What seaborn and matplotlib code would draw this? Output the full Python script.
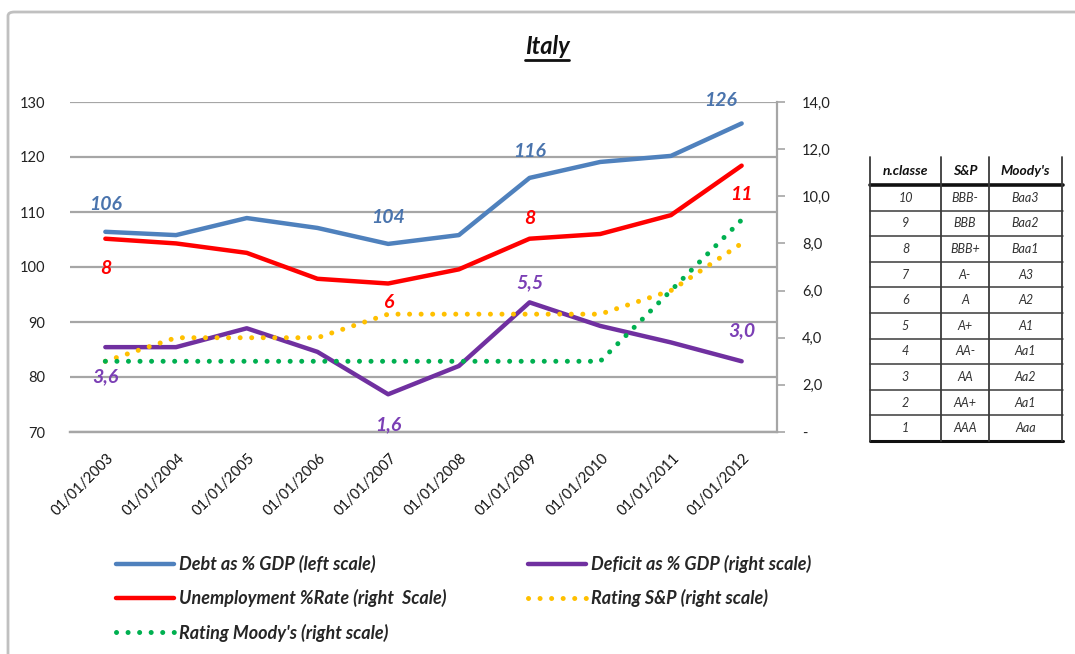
import numpy as np
import pandas as pd
import matplotlib
matplotlib.use('Agg')
import matplotlib.pyplot as plt
import matplotlib.transforms as mtransforms
import seaborn as sns
from matplotlib.lines import Line2D
from matplotlib.patches import FancyBboxPatch
from matplotlib.ticker import FixedLocator, FuncFormatter


dates = ['01/01/2003', '01/01/2004', '01/01/2005', '01/01/2006', '01/01/2007',
         '01/01/2008', '01/01/2009', '01/01/2010', '01/01/2011', '01/01/2012']
debt = [106.4, 105.8, 108.9, 107.1, 104.2, 105.8, 116.2, 119.1, 120.2, 126.1]
unemployment = [8.2, 8.0, 7.6, 6.5, 6.3, 6.9, 8.2, 8.4, 9.2, 11.3]
deficit = [3.6, 3.6, 4.4, 3.4, 1.6, 2.8, 5.5, 4.5, 3.8, 3.0]
rating_sp = [3, 4, 4, 4, 5, 5, 5, 5, 6, 8]
rating_moodys = [3, 3, 3, 3, 3, 3, 3, 3, 6, 9]

labelled = [0, 4, 6, 9]

classes = [10, 9, 8, 7, 6, 5, 4, 3, 2, 1]
sp_scale = ['BBB-', 'BBB', 'BBB+', 'A-', 'A', 'A+', 'AA-', 'AA', 'AA+', 'AAA']
moodys_scale = ['Baa3', 'Baa2', 'Baa1', 'A3', 'A2', 'A1', 'Aa1', 'Aa2', 'Aa1', 'Aaa']

BLUE = '#4F81BD'
RED = '#FF0000'
PURPLE = '#7030A0'
YELLOW = '#FFC000'
GREEN = '#00B050'
GRID = '#a6a6a6'

sns.set_style('white')
plt.rcParams['font.family'] = ['Lato', 'DejaVu Sans']

df = pd.DataFrame({'x': np.arange(len(dates)), 'debt': debt, 'unemployment': unemployment,
                   'deficit': deficit, 'sp': rating_sp, 'moodys': rating_moodys})

W, H = 1075, 654
fig = plt.figure(figsize=(W / 100, H / 100), dpi=100)


def px(x0, y0, x1, y1):
    # pixel box (top-left origin) -> figure fraction rect
    return [x0 / W, 1 - y1 / H, (x1 - x0) / W, (y1 - y0) / H]


# outer chart frame
frame = FancyBboxPatch((8 / W, -0.1), 1.2, 1 - 12 / H + 0.1, transform=fig.transFigure,
                       boxstyle='round,pad=0,rounding_size=0.006', facecolor='none',
                       edgecolor='#c0c0c0', lw=2, zorder=0)
fig.patches.append(frame)

ax = fig.add_axes(px(70, 102, 777, 432))
ax2 = ax.twinx()

solid = dict(lw=3.2, solid_capstyle='round', solid_joinstyle='round')
dotted = dict(lw=3.6, linestyle=(0, (0.01, 2.3)), dash_capstyle='round')

sns.lineplot(data=df, x='x', y='debt', ax=ax, color=BLUE, **solid)
sns.lineplot(data=df, x='x', y='unemployment', ax=ax2, color=RED, **solid)
sns.lineplot(data=df, x='x', y='deficit', ax=ax2, color=PURPLE, **solid)
sns.lineplot(data=df, x='x', y='sp', ax=ax2, color=YELLOW, **dotted)
sns.lineplot(data=df, x='x', y='moodys', ax=ax2, color=GREEN, **dotted)

ax.set_xlim(-0.5, len(dates) - 0.5)
ax.set_ylim(70, 130)
ax2.set_ylim(0, 14)
ax.set_xlabel('')
ax.set_ylabel('')
ax2.set_ylabel('')

ax.yaxis.set_major_locator(FixedLocator(np.arange(70, 131, 10)))
ax.grid(axis='y', color=GRID, lw=1.6)
ax.grid(axis='x', visible=False)
ax.tick_params(axis='y', length=0, pad=18, labelsize=10.5, labelcolor='#222222')
ax.set_xticks(df['x'])
ax.set_xticklabels(dates, rotation=45, ha='right', va='center', rotation_mode='anchor',
                   fontsize=10.5, color='#111111')
ax.tick_params(axis='x', length=0, pad=17)
shift = mtransforms.ScaledTranslation(6 / 100, 0, fig.dpi_scale_trans)
for t in ax.get_xticklabels():
    t.set_transform(t.get_transform() + shift)

ax2.yaxis.set_major_locator(FixedLocator(np.arange(0, 15, 2)))
ax2.yaxis.set_major_formatter(FuncFormatter(
    lambda v, p: '-' if v == 0 else f'{v:.1f}'.replace('.', ',')))
ax2.tick_params(axis='y', length=6, width=1.2, color=GRID, direction='out', pad=12,
                labelsize=10.5, labelcolor='#222222')

for a in (ax, ax2):
    for s in ('top', 'left', 'right'):
        a.spines[s].set_visible(False)
    a.spines['bottom'].set_color(GRID)
    a.spines['bottom'].set_linewidth(1.6)
ax2.spines['right'].set_visible(True)
ax2.spines['right'].set_color(GRID)
ax2.spines['right'].set_linewidth(1.6)

lab = dict(fontsize=14, fontweight='bold', fontstyle='italic', ha='center', va='center',
           textcoords='offset points')
k = 0.72
debt_off = [(0, 27), (0, 26), (0, 26), (-21, 23)]
unemp_off = [(0, -30), (0, -19), (0, 20), (0, -29)]
def_off = [(0, -30), (0, -30), (0, 20), (0, 31)]
for i, (dx, dy) in zip(labelled, debt_off):
    ax.annotate(f'{debt[i]:.0f}', (i, debt[i]), xytext=(dx * k, dy * k), color='#4a74ad', **lab)
for i, (dx, dy) in zip(labelled, unemp_off):
    ax2.annotate(f'{unemployment[i]:.0f}', (i, unemployment[i]), xytext=(dx * k, dy * k),
                 color=RED, **lab)
for i, (dx, dy) in zip(labelled, def_off):
    ax2.annotate(f'{deficit[i]:.1f}'.replace('.', ','), (i, deficit[i]), xytext=(dx * k, dy * k),
                 color='#7b3fb5', **lab)

# legend
handles = [
    Line2D([], [], color=BLUE, **solid),
    Line2D([], [], color=RED, **solid),
    Line2D([], [], color=GREEN, **dotted),
    Line2D([], [], color=PURPLE, **solid),
    Line2D([], [], color=YELLOW, **dotted),
]
names = ['Debt as % GDP (left scale)', 'Unemployment %Rate (right  Scale)',
         "Rating Moody's (right scale)", 'Deficit as % GDP (right scale)',
         'Rating S&P (right scale)']
leg = fig.legend(handles, names, loc='upper left', bbox_to_anchor=(116 / W, 1 - 555 / H),
                 ncol=2, frameon=False, borderpad=0, borderaxespad=0, handlelength=3.2,
                 handletextpad=0.3, columnspacing=4.5, labelspacing=0.9,
                 prop=dict(family='Lato', weight='bold', style='italic', size=13))

# title
title = fig.text(547 / W, 1 - 47 / H, 'Italy', ha='center', va='center', fontsize=17,
                 fontweight='bold', fontstyle='italic', color='#111111')
fig.canvas.draw()
bb = title.get_window_extent().transformed(fig.transFigure.inverted())
fig.add_artist(Line2D([bb.x0, bb.x1], [bb.y0 - 0.002, bb.y0 - 0.002], transform=fig.transFigure,
                      color='#111111', lw=2))

# ratings table
tx = fig.add_axes(px(870, 157, 1063, 441))
tx.set_xlim(0, 193)
tx.set_ylim(284, 0)
tx.axis('off')
cols = [0, 71, 119, 192]
head_h = 28
row_h = (284 - head_h) / len(classes)
headers = ['n.classe', 'S&P', "Moody's"]
for c, h in enumerate(headers):
    tx.text((cols[c] + cols[c + 1]) / 2, head_h / 2, h, ha='center', va='center',
            fontsize=10, fontweight='bold', fontstyle='italic', color='#111111')
for r, (n, s, m) in enumerate(zip(classes, sp_scale, moodys_scale)):
    yc = head_h + row_h * (r + 0.5)
    for c, t in enumerate([str(n), s, m]):
        tx.text((cols[c] + cols[c + 1]) / 2, yc, t, ha='center', va='center',
                fontsize=9, fontstyle='italic', color='#333333')
for r in range(1, len(classes)):
    y = head_h + row_h * r
    tx.plot([0, 193], [y, y], color='#3a3a3a', lw=1.1, clip_on=False)
tx.plot([0, 193], [head_h, head_h], color='#111111', lw=2.6, clip_on=False)
tx.plot([0, 193], [284, 284], color='#111111', lw=2.2, clip_on=False)
for c in cols:
    tx.plot([c, c], [0, 284], color='#3a3a3a', lw=1.3, clip_on=False)

fig.savefig('out.png', dpi=100)
